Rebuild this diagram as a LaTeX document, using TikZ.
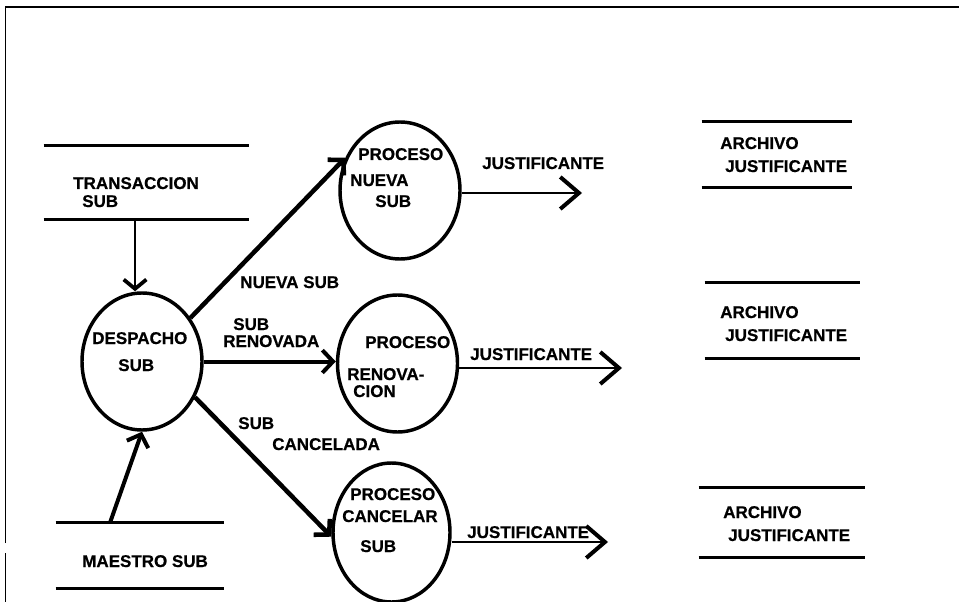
\documentclass[tikz,border=0pt]{standalone}
\usepackage{fontspec}
\setmainfont{Liberation Sans}[BoldFeatures={FakeBold=0.6}]
\usetikzlibrary{arrows.meta,shapes.geometric}

\tikzset{
  txt/.style={font=\fontsize{12.75}{14}\selectfont\bfseries, inner sep=0pt, anchor=base west},
  proc/.style={ellipse, draw, line width=2.6pt, inner sep=0pt,
               minimum width=90pt, minimum height=102.75pt},
  store/.style={inner sep=0pt, draw=none},
  storeline/.style={line width=2pt},
  frameline/.style={line width=1.3pt},
  flow/.style={line width=3.4pt, -{Straight Barb[length=8pt,width=17pt]}},
  thinflow/.style={line width=1.8pt, -{Straight Barb[length=7pt,width=17pt,line width=2.8pt]}},
  outflow/.style={line width=1.8pt, -{Straight Barb[length=14pt,width=24pt,line width=3pt]}}
}

\begin{document}
\begin{tikzpicture}[x=0.75pt,y=-0.75pt]
\useasboundingbox (0,0) rectangle (959,602);

% outer frame (top and left edges)
\draw[frameline] (5.5,602) -- (5.5,553);
\draw[frameline] (5.5,543) -- (5.5,7) -- (959,7);

% data stores
\node[store, minimum width=153.75pt, minimum height=54.75pt] (trans) at (146.5,182.5) {};
\node[store, minimum width=126pt, minimum height=48.75pt] (maestro) at (140,555.5) {};
\node[store, minimum width=112.5pt, minimum height=48.75pt] (arch1) at (777,154.5) {};
\node[store, minimum width=116.25pt, minimum height=56.25pt] (arch2) at (782.5,320.5) {};
\node[store, minimum width=124.5pt, minimum height=51.75pt] (arch3) at (782,522.5) {};
\foreach \s in {trans,maestro,arch1,arch2,arch3}
  \draw[storeline] (\s.north west) -- (\s.north east)
                   (\s.south west) -- (\s.south east);

\node[txt] (transL1) at (73,189) {TRANSACCION};
\node[txt] (transL2) at (82,207) {SUB};
\node[txt] (maeL) at (82,567) {MAESTRO SUB};
\node[txt] (a1L1) at (720,149) {ARCHIVO};
\node[txt] (a1L2) at (725,172) {JUSTIFICANTE};
\node[txt] (a2L1) at (720,318) {ARCHIVO};
\node[txt] (a2L2) at (725,341) {JUSTIFICANTE};
\node[txt] (a3L1) at (723,518) {ARCHIVO};
\node[txt] (a3L2) at (728,541) {JUSTIFICANTE};

% processes
\node[proc] (desp)   at (142,361.5) {};
\node[proc] (pnueva) at (400,190.5) {};
\node[proc] (preno)  at (397.5,363.5) {};
\node[proc, minimum width=87.75pt, minimum height=104.25pt] (pcanc) at (391.5,532.5) {};

\node[txt] (despL1) at (92,344) {DESPACHO};
\node[txt] (despL2) at (118,371) {SUB};
\node[txt] (pnL1) at (358,160) {PROCESO};
\node[txt] (pnL2) at (350,186) {NUEVA};
\node[txt] (pnL3) at (375,207) {SUB};
\node[txt] (prL1) at (365,348) {PROCESO};
\node[txt] (prL2) at (347,380) {RENOVA-};
\node[txt] (prL3) at (353,397) {CION};
\node[txt] (pcL1) at (350,500) {PROCESO};
\node[txt] (pcL2) at (342,522) {CANCELAR};
\node[txt] (pcL3) at (360,552) {SUB};

% flow labels
\node[txt] (nuevaL) at (240,288) {NUEVA SUB};
\node[txt] (renL1) at (233,330) {SUB};
\node[txt] (renL2) at (223,347) {RENOVADA};
\node[txt] (cancL1) at (238,429) {SUB};
\node[txt] (cancL2) at (272,450) {CANCELADA};
\node[txt] (j1L) at (482,169) {JUSTIFICANTE};
\node[txt] (j2L) at (470,360) {JUSTIFICANTE};
\node[txt] (j3L) at (467,538) {JUSTIFICANTE};

% free ends of the output flows
\coordinate (j1) at (582,193);
\coordinate (j2) at (622,368);
\coordinate (j3) at (608,542);

% flows
\draw[thinflow] ([xshift=-8.6pt]trans.south) coordinate (ta) -- (ta |- desp.north);
\draw[flow, line width=3pt] ([xshift=-22.5pt]maestro.north) -- (desp.south);
\draw[flow] (desp.42) -- (pnueva.149);
\draw[flow, line width=3pt] (desp.east) -- (desp.east -| preno.west);
\draw[flow] (desp.-34) -- (pcanc.184);
\draw[outflow] (pnueva.east |- j1) -- (j1);
\draw[outflow] (preno.east |- j2) -- (j2);
\draw[outflow] (pcanc.east |- j3) -- (j3);
\end{tikzpicture}
\end{document}
